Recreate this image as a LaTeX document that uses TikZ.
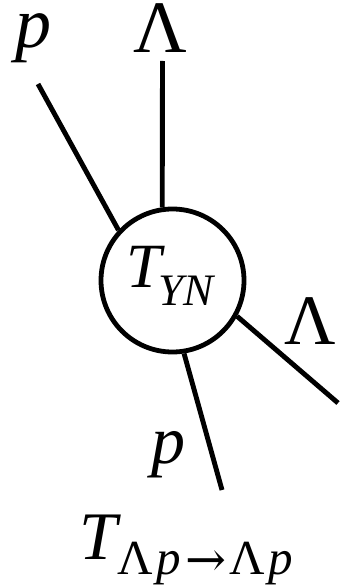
\documentclass[tikz,border=0pt]{standalone}
\usepackage{fontspec}
\setmainfont{Liberation Serif}
\newfontfamily\arrowfont{DejaVu Serif}
\tikzset{
  edge/.style={line width=4.9pt, line cap=butt},
  vertex/.style={circle, draw, line width=4.8pt, minimum size=143pt, inner sep=0pt},
  lab/.style={inner sep=0pt, outer sep=0pt},
}
\begin{document}
\begin{tikzpicture}[x=1pt,y=-1pt]
\useasboundingbox (0,0) rectangle (352,588);
\node[vertex] (v) at (172.5,280.5) {};
\coordinate (ul) at (38,84);
\coordinate (up) at (162.5,61);
\coordinate (dn) at (222,490);
\coordinate (rt) at (338,403);
\draw[edge] (v.137.7) -- (ul);
\draw[edge] (v.98.5) -- (up);
\draw[edge] (v.-81.8) -- (dn);
\draw[edge] (v.-29.5) -- (rt);
\node[lab, anchor=base] (pl) at (33,48) {\fontsize{72}{72}\selectfont\itshape p};
\node[lab, anchor=base] (lu) at (160,53) {\fontsize{74}{74}\selectfont Λ};
\node[lab, anchor=base] (lr) at (310,344) {\fontsize{71}{71}\selectfont Λ};
\node[lab, anchor=base] (pd) at (168.5,463.5) {\fontsize{68}{68}\selectfont\itshape p};
\node[lab, anchor=base west] (tyn) at (126,287) {\fontsize{63}{63}\selectfont\itshape T\kern-3pt\raisebox{-18pt}{\fontsize{45}{45}\selectfont YN}};
\node[lab, anchor=base west] (tlp) at (79,559) {\fontsize{68}{68}\selectfont\itshape T\kern1pt\raisebox{-15pt}{\fontsize{49}{49}\selectfont\upshape Λ\kern3pt\itshape p\kern5pt{\upshape\arrowfont\raisebox{-2pt}{→}}\kern3pt\upshape Λ\kern3pt\itshape p}};
\end{tikzpicture}
\end{document}
